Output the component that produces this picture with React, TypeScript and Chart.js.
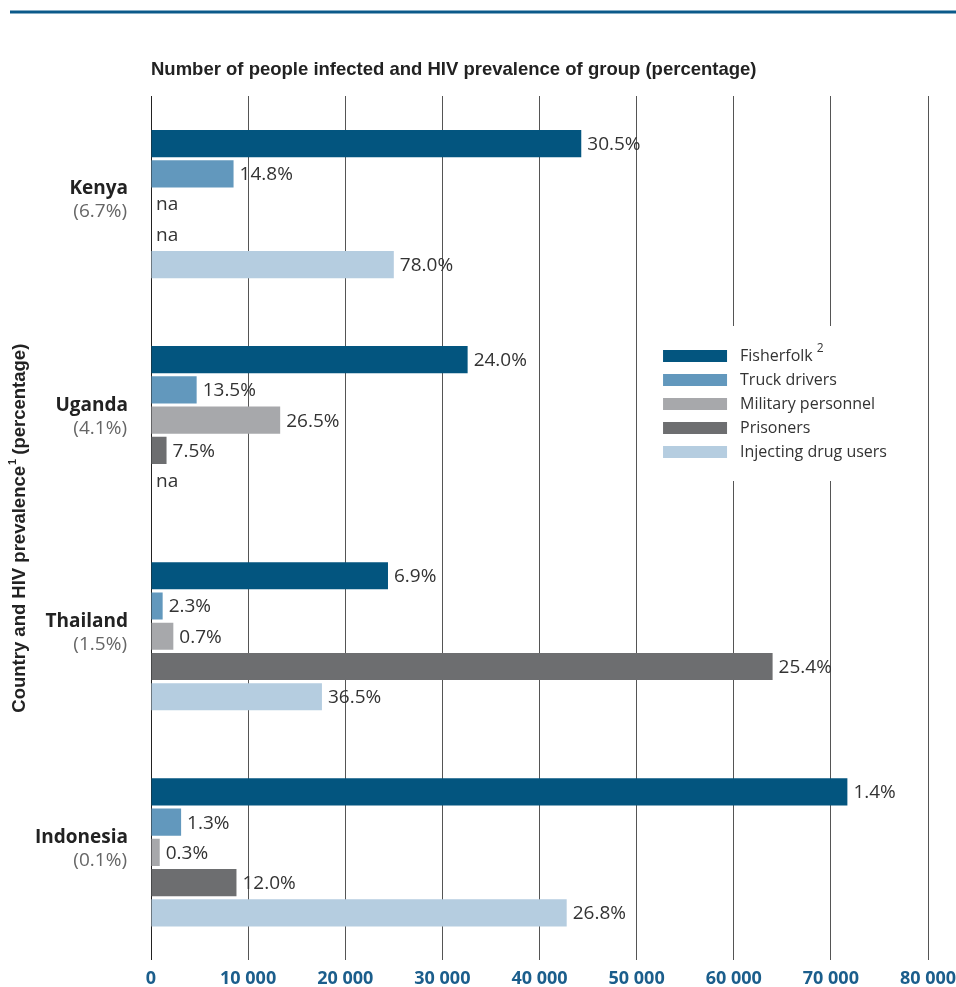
import React, { useEffect, useRef } from 'react';
import { Chart, registerables } from 'chart.js';

Chart.register(...registerables);

const chartTitle = 'Number of people infected and HIV prevalence of group (percentage)';
const yTitleMain = 'Country and HIV prevalence';
const yTitleSup = '1';
const yTitleEnd = ' (percentage)';

const countries = ['Kenya', 'Uganda', 'Thailand', 'Indonesia'];
const countryPrevalence = ['(6.7%)', '(4.1%)', '(1.5%)', '(0.1%)'];

const seriesNames = ['Fisherfolk', 'Truck drivers', 'Military personnel', 'Prisoners', 'Injecting drug users'];
const seriesSup = ['2', '', '', '', ''];
const seriesColors = ['#03557f', '#6298bd', '#a7a8ab', '#6d6e70', '#b5cde0'];

// number of people infected
const fisherfolk = [44300, 32600, 24400, 71700];
const truckDrivers = [8500, 4700, 1200, 3100];
const military = [null, 13300, 2300, 900];
const prisoners = [null, 1600, 64000, 8800];
const drugUsers = [25000, null, 17600, 42800];

// HIV prevalence of group
const fisherfolkPrev = ['30.5%', '24.0%', '6.9%', '1.4%'];
const truckPrev = ['14.8%', '13.5%', '2.3%', '1.3%'];
const militaryPrev = ['na', '26.5%', '0.7%', '0.3%'];
const prisonersPrev = ['na', '7.5%', '25.4%', '12.0%'];
const drugUsersPrev = ['78.0%', 'na', '36.5%', '26.8%'];

const xMin = 0;
const xMax = 80000;
const xStep = 10000;

const seriesValues = [fisherfolk, truckDrivers, military, prisoners, drugUsers];
const seriesPrev = [fisherfolkPrev, truckPrev, militaryPrev, prisonersPrev, drugUsersPrev];

const fmtTick = (v: number) => (v === 0 ? '0' : `${Math.round(v / 1000)} 000`);

const overlayPlugin = {
  id: 'overlay',
  beforeDraw(chart: any) {
    const ctx = chart.ctx;
    const area = chart.chartArea;
    ctx.save();
    // top rule
    ctx.strokeStyle = '#0b5a8a';
    ctx.lineWidth = 3;
    ctx.beginPath();
    ctx.moveTo(10, 12);
    ctx.lineTo(chart.width, 12);
    ctx.stroke();
    // title
    ctx.fillStyle = '#222';
    ctx.font = 'bold 18.5px "Liberation Sans", Arial, sans-serif';
    ctx.textAlign = 'left';
    ctx.textBaseline = 'middle';
    ctx.fillText(chartTitle, area.left, 70);
    ctx.restore();
  },
  afterDatasetsDraw(chart: any) {
    const ctx = chart.ctx;
    const area = chart.chartArea;
    const yScale = chart.scales.y;
    ctx.save();
    // value labels
    ctx.font = '19px "Open Sans", sans-serif';
    ctx.fillStyle = '#333';
    ctx.textAlign = 'left';
    ctx.textBaseline = 'middle';
    chart.data.datasets.forEach((ds: any, di: number) => {
      const meta = chart.getDatasetMeta(di);
      meta.data.forEach((el: any, i: number) => {
        const v = ds.data[i];
        const label = seriesPrev[di][i];
        const x = v == null ? area.left + 5 : el.x + 6;
        ctx.fillText(label, x, el.y + 1);
      });
    });

    // category labels
    ctx.textAlign = 'right';
    countries.forEach((c, i) => {
      const cy = yScale.getPixelForValue(i);
      ctx.font = 'bold 19px "Open Sans", sans-serif';
      ctx.fillStyle = '#222';
      ctx.fillText(c, 128, cy - 15);
      ctx.font = '19px "Open Sans", sans-serif';
      ctx.fillStyle = '#666';
      ctx.fillText(countryPrevalence[i], 127, cy + 8);
    });

    // y axis title
    const midY = (area.top + area.bottom) / 2;
    ctx.translate(20, midY);
    ctx.rotate(-Math.PI / 2);
    const fMain = 'bold 18.5px "Liberation Sans", Arial, sans-serif';
    const fSup = 'bold 11px "Liberation Sans", Arial, sans-serif';
    ctx.font = fMain;
    const w1 = ctx.measureText(yTitleMain).width;
    const w3 = ctx.measureText(yTitleEnd).width;
    ctx.font = fSup;
    const w2 = ctx.measureText(yTitleSup).width;
    const total = w1 + w2 + w3;
    let x0 = -total / 2;
    ctx.textAlign = 'left';
    ctx.fillStyle = '#222';
    ctx.font = fMain;
    ctx.fillText(yTitleMain, x0, 0);
    x0 += w1;
    ctx.font = fSup;
    ctx.fillText(yTitleSup, x0 + 1, -7);
    x0 += w2;
    ctx.font = fMain;
    ctx.fillText(yTitleEnd, x0, 0);
    ctx.setTransform(1, 0, 0, 1, 0, 0);

    // legend
    const lx = area.left + (area.right - area.left) * 0.659;
    const ly = 356;
    ctx.fillStyle = '#ffffff';
    ctx.fillRect(lx - 13, ly - 30, 250, 155);
    seriesNames.forEach((name, i) => {
      const y = ly + i * 24;
      ctx.fillStyle = seriesColors[i];
      ctx.fillRect(lx, y - 6, 64, 12);
      ctx.font = '16px "Open Sans", sans-serif';
      ctx.fillStyle = '#333';
      ctx.textAlign = 'left';
      ctx.textBaseline = 'middle';
      ctx.fillText(name, lx + 77, y);
      if (seriesSup[i]) {
        const w = ctx.measureText(name).width;
        ctx.font = '12px "Open Sans", sans-serif';
        ctx.fillText(seriesSup[i], lx + 77 + w + 4, y - 7);
      }
    });
    ctx.restore();
  },
};

export default function App() {
  const ref = useRef<HTMLCanvasElement | null>(null);

  useEffect(() => {
    if (!ref.current) return;
    const chart = new Chart(ref.current, {
      type: 'bar',
      data: {
        labels: countries,
        datasets: seriesNames.map((name, i) => ({
          label: name,
          data: seriesValues[i] as any,
          backgroundColor: seriesColors[i],
          borderWidth: 0,
          categoryPercentage: 0.7,
          barPercentage: 0.9,
        })),
      },
      options: {
        indexAxis: 'y',
        responsive: false,
        animation: false,
        layout: { padding: { top: 96, left: 151, right: 28, bottom: -11 } },
        plugins: {
          legend: { display: false },
          title: { display: false },
          tooltip: { enabled: false },
        },
        scales: {
          x: {
            type: 'linear',
            min: xMin,
            max: xMax,
            afterFit: (scale: any) => {
              scale.paddingRight = 0;
              scale.paddingLeft = 0;
            },
            ticks: {
              stepSize: xStep,
              padding: 8,
              color: '#1b5e8c',
              font: { family: '"Open Sans", sans-serif', size: 18, weight: 'bold' },
              callback: (v: any) => fmtTick(Number(v)),
              maxRotation: 0,
            },
            grid: {
              drawTicks: false,
              color: (c: any) => (c.tick && c.tick.value === 0 ? '#222' : '#555'),
              lineWidth: 1,
            },
            border: { display: false },
          },
          y: {
            type: 'category',
            display: false,
          },
        },
      },
      plugins: [overlayPlugin],
    });
    return () => chart.destroy();
  }, []);

  return (
    <div style={{ position: 'fixed', left: 0, top: 0, width: 956, height: 987, background: '#fff' }}>
      <canvas ref={ref} width={956} height={987} style={{ display: 'block' }} />
    </div>
  );
}
